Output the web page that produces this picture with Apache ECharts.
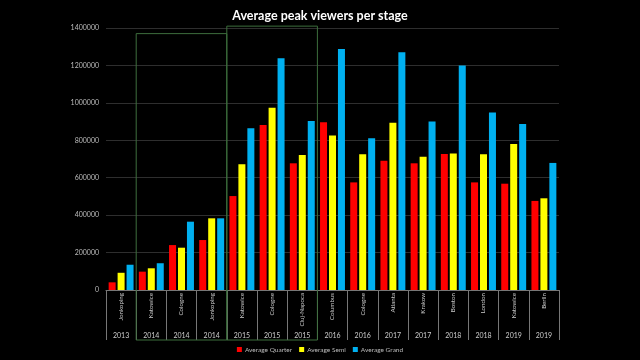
<!DOCTYPE html>
<html><head><meta charset="utf-8">
<script src="https://cdn.jsdelivr.net/npm/echarts@6/dist/echarts.min.js"></script>
<style>html,body{margin:0;padding:0;background:#000}#c{width:640px;height:360px}</style>
</head><body><div id="c"></div>
<script>
const cities = ["Jonkoping","Katowice","Cologne","Jonkoping","Katowice","Cologne","Cluj-Napoca","Columbus","Cologne","Atlanta","Krakow","Boston","London","Katowice","Berlin"];
const years = ["2013","2014","2014","2014","2015","2015","2015","2016","2016","2017","2017","2018","2018","2019","2019"];
const quarter = [41000,98000,240000,267000,502000,882000,677000,896000,575000,691000,677000,727000,575000,568000,476000];
const semi = [92000,116000,226000,383000,672000,974000,721000,825000,725000,894000,712000,730000,725000,780000,490000];
const grand = [135000,143000,365000,383000,864000,1238000,903000,1288000,811000,1270000,900000,1199000,948000,887000,679000];
// highlighted groups: [first index, last index, top value]
const boxes = [[1,3,1370000],[4,6,1410000]];

const chart = echarts.init(document.getElementById('c'));
const font = "Lato, 'Open Sans', sans-serif";
const cats = cities.map((c,i)=>c+"\n"+i);
chart.setOption({
  backgroundColor:'#000',
  animation:false,
  title:{text:'Average peak viewers per stage',left:'center',top:4,
    textStyle:{color:'#fff',fontSize:12.5,fontWeight:'bold',fontFamily:font}},
  legend:{bottom:2,left:'center',itemWidth:5,itemHeight:5,itemGap:7,icon:'rect',
    textStyle:{color:'#bbb',fontSize:6.5,fontFamily:font,padding:[0,0,0,-2]},
    data:['Average Quarter','Average Semi','Average Grand']},
  grid:{left:106,right:81,top:28,bottom:70},
  xAxis:[{
    type:'category',data:cats,position:'bottom',
    axisLine:{lineStyle:{color:'#777',width:1}},
    axisTick:{show:true,interval:0,length:50,lineStyle:{color:'#777'}},
    axisLabel:{interval:0,rotate:90,margin:3,color:'#ccc',fontSize:6.2,fontFamily:font,
      formatter:v=>v.split("\n")[0]}
  },{
    type:'category',data:years.map((y,i)=>y+"\n"+i),position:'bottom',
    axisLine:{show:false},axisTick:{show:false},
    axisLabel:{interval:0,margin:42,color:'#ccc',fontSize:7,fontFamily:font,
      formatter:v=>v.split("\n")[0]}
  }],
  yAxis:{type:'value',min:0,max:1400000,interval:200000,
    axisLine:{show:false},axisTick:{show:false},
    axisLabel:{color:'#bbb',fontSize:7,fontFamily:font,margin:7,formatter:v=>String(v)},
    splitLine:{lineStyle:{color:'#2e2e2e',width:1}}},
  series:[
    {name:'Average Quarter',type:'bar',data:quarter,itemStyle:{color:'#ff0000'},barWidth:7,barGap:'28%'},
    {name:'Average Semi',type:'bar',data:semi,itemStyle:{color:'#ffff00'},barWidth:7,barGap:'28%'},
    {name:'Average Grand',type:'bar',data:grand,itemStyle:{color:'#00b0f0'},barWidth:7,barGap:'28%'}
  ]
});
function drawBoxes(){
  const c0 = chart.convertToPixel({xAxisIndex:0},cats[0]);
  const c1 = chart.convertToPixel({xAxisIndex:0},cats[1]);
  const band = c1-c0;
  const y0 = chart.convertToPixel({yAxisIndex:0},0);
  const els = boxes.map(b=>{
    const x1 = chart.convertToPixel({xAxisIndex:0},cats[b[0]])-band/2;
    const x2 = chart.convertToPixel({xAxisIndex:0},cats[b[1]])+band/2;
    const yt = chart.convertToPixel({yAxisIndex:0},b[2]);
    return {type:'rect',shape:{x:x1,y:yt,width:x2-x1,height:y0+50-yt},
      style:{fill:'none',stroke:'#3d6e3d',lineWidth:1},z:10};
  });
  chart.setOption({graphic:els});
}
drawBoxes();
</script></body></html>
